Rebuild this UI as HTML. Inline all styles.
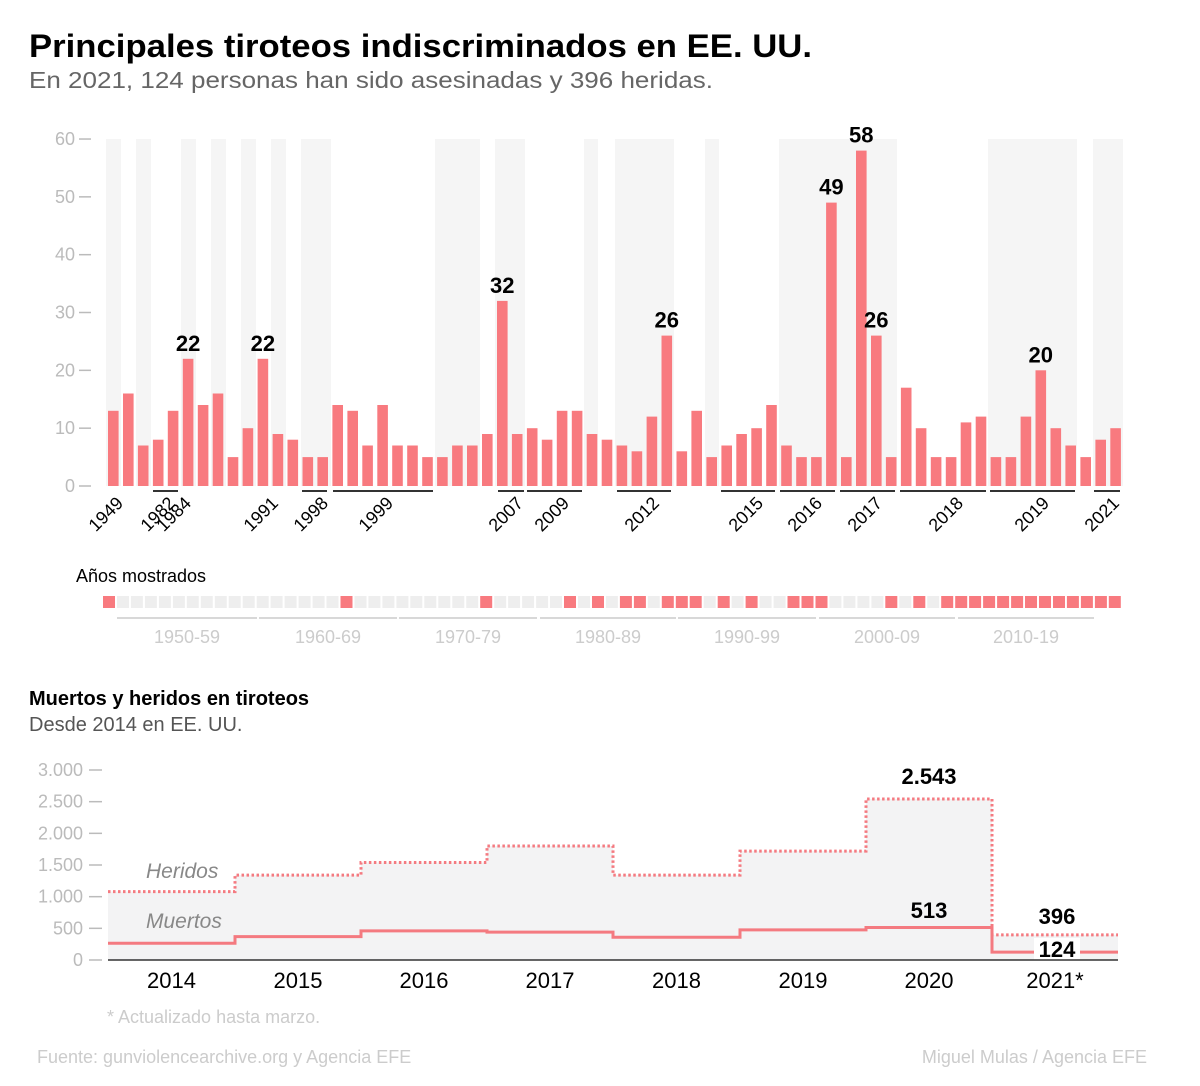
<!DOCTYPE html>
<html><head><meta charset="utf-8"><style>
html,body{margin:0;padding:0;background:#fff;}
svg{display:block;}
.n{font-family:"Liberation Sans Narrow","Liberation Sans",sans-serif;}
.s{font-family:"Liberation Sans",sans-serif;}
</style></head><body>
<svg id="c" width="1200" height="1086" viewBox="0 0 1200 1086" xmlns="http://www.w3.org/2000/svg">
<text x="29" y="57" class="s" font-size="32" font-weight="bold" fill="#000" textLength="783" lengthAdjust="spacingAndGlyphs">Principales tiroteos indiscriminados en EE. UU.</text>
<text x="29" y="88" class="s" font-size="23" fill="#666" textLength="684" lengthAdjust="spacingAndGlyphs">En 2021, 124 personas han sido asesinadas y 396 heridas.</text>
<g id="bands" fill="#f5f5f5"></g>
<g id="yax" class="n" font-size="18" fill="#bbb"></g>
<g id="bars" fill="#f87a7f"></g>
<g id="vals" class="n" font-size="22" font-weight="bold" fill="#000" text-anchor="middle"></g>
<g id="ul" stroke="#333" stroke-width="2"></g>
<g id="xl" class="n" font-size="18" fill="#000" text-anchor="end"></g>
<text x="76" y="582" class="n" font-size="18" fill="#000">Años mostrados</text>
<g id="sq"></g>
<g id="dec" class="n" font-size="18" fill="#ccc" text-anchor="middle"></g>
<text x="29" y="705" class="s" font-size="20" font-weight="bold" fill="#000">Muertos y heridos en tiroteos</text>
<text x="29" y="731" class="n" font-size="20" fill="#555">Desde 2014 en EE. UU.</text>
<g id="b2"></g>
<text x="107" y="1023" class="n" font-size="18" fill="#ccc">* Actualizado hasta marzo.</text>
<text x="37" y="1063" class="n" font-size="18" fill="#ccc">Fuente: gunviolencearchive.org y Agencia EFE</text>
<text x="1147" y="1063" class="n" font-size="18" fill="#ccc" text-anchor="end">Miguel Mulas /  Agencia EFE</text>
</svg>
<script>
var NS="http://www.w3.org/2000/svg";
function el(p,t,a,txt){var e=document.createElementNS(NS,t);for(var k in a)e.setAttribute(k,a[k]);if(txt!=null)e.textContent=txt;document.getElementById(p).appendChild(e);return e;}
// bands
[[106,121],[136,151],[181,196],[211,226],[241,256],[271,286],[301,331],[435,480],[495,525],[584,598],[615,674],[705,719],[779,897],[988,1077],[1093,1123]].forEach(function(b){el("bands","rect",{x:b[0],y:139,width:b[1]-b[0],height:347});});
// y axis
for(var v=0;v<=60;v+=10){var y=486-v*5.783;el("yax","text",{x:75,y:y+6,"text-anchor":"end"},String(v));el("yax","line",{x1:79,x2:91,y1:y,y2:y,stroke:"#bbb","stroke-width":1.5});}
var vals=[13,16,7,8,13,22,14,16,5,10,22,9,8,5,5,14,13,7,14,7,7,5,5,7,7,9,32,9,10,8,13,13,9,8,7,6,12,26,6,13,5,7,9,10,14,7,5,5,49,5,58,26,5,17,10,5,5,11,12,5,5,12,20,10,7,5,8,10];
vals.forEach(function(v,i){var x=108+i*14.96;var h=v*5.783;el("bars","rect",{x:x.toFixed(1),y:(486-h).toFixed(1),width:10.6,height:h.toFixed(1)});
 if(v>=20)el("vals","text",{x:(x+5.3).toFixed(1),y:(486-h-8).toFixed(1)},String(v));});
[[153,178],[302,327],[333,433],[498,524],[527,582],[617,671],[721,775],[780,835],[840,895],[900,986],[990,1075],[1094,1120]].forEach(function(s){el("ul","line",{x1:s[0],x2:s[1],y1:491,y2:491});});
[["1949",120],["1982",172],["1984",188],["1991",275],["1998",325],["1999",390],["2007",520],["2009",566],["2012",656],["2015",760],["2016",819],["2017",879],["2018",960],["2019",1046],["2021",1116]].forEach(function(l){el("xl","text",{x:l[1],y:506,transform:"rotate(-45 "+l[1]+" 500)"},l[0]);});
// squares
var red={0:1,17:1,27:1,33:1,35:1,37:1,38:1,40:1,41:1,42:1,44:1,46:1,49:1,50:1,51:1,56:1,58:1};
for(var i=0;i<73;i++){var r=red[i]||i>=60;el("sq","rect",{x:(103+i*13.97).toFixed(1),y:596,width:12,height:12,fill:r?"#f87a7f":"#eeeeee"});}
[["1950-59",117,257],["1960-69",259,397],["1970-79",399,537],["1980-89",540,676],["1990-99",678,816],["2000-09",819,955],["2010-19",958,1094]].forEach(function(d){el("dec","line",{x1:d[1],x2:d[2],y1:618,y2:618,stroke:"#ccc","stroke-width":1.5});el("dec","text",{x:(d[1]+d[2])/2,y:643},d[0]);});
// bottom chart
var X=[108,235,361,487,613,740,866,992,1118];
var her=[1080,1340,1540,1800,1340,1720,2543,396];
var mue=[265,370,460,440,360,475,513,124];
function Y(v){return 960-v*0.06333;}
var p="M108 960",ph="",pm="";
for(var i=0;i<8;i++){p+=" L"+X[i]+" "+Y(her[i])+" L"+X[i+1]+" "+Y(her[i]);
 ph+=(i?" L":"M")+X[i]+" "+Y(her[i])+" L"+X[i+1]+" "+Y(her[i]);
 pm+=(i?" L":"M")+X[i]+" "+Y(mue[i])+" L"+X[i+1]+" "+Y(mue[i]);}
p+=" L1118 960 Z";
el("b2","path",{d:p,fill:"#f3f3f4"});
var ax=[0,500,1000,1500,2000,2500,3000],lab=["0","500","1.000","1.500","2.000","2.500","3.000"];
ax.forEach(function(v,i){var y=Y(v);el("b2","text",{x:83,y:y+6,"text-anchor":"end","class":"n","font-size":18,fill:"#bbb"},lab[i]);el("b2","line",{x1:89,x2:102,y1:y,y2:y,stroke:"#bbb","stroke-width":1.5});});
el("b2","path",{d:ph,fill:"none",stroke:"#f47a80","stroke-width":3,"stroke-dasharray":"2.5 2.5"});
el("b2","path",{d:pm,fill:"none",stroke:"#f47a80","stroke-width":3});
el("b2","rect",{x:1034,y:938,width:46,height:22,fill:"#fff"});
el("b2","line",{x1:108,x2:1118,y1:960,y2:960,stroke:"#333","stroke-width":1.5});
["2014","2015","2016","2017","2018","2019","2020","2021*"].forEach(function(t,i){el("b2","text",{x:(X[i]+X[i+1])/2,y:988,"text-anchor":"middle","class":"n","font-size":22,fill:"#000"},t);});
el("b2","text",{x:146,y:878,"class":"n","font-size":21,"font-style":"italic",fill:"#888"},"Heridos");
el("b2","text",{x:146,y:928,"class":"n","font-size":21,"font-style":"italic",fill:"#888"},"Muertos");
[["2.543",929,784],["513",929,918],["396",1057,924],["124",1057,957]].forEach(function(t){el("b2","text",{x:t[1],y:t[2],"text-anchor":"middle","class":"n","font-size":22,"font-weight":"bold",fill:"#000"},t[0]);});
</script>
</body></html>
